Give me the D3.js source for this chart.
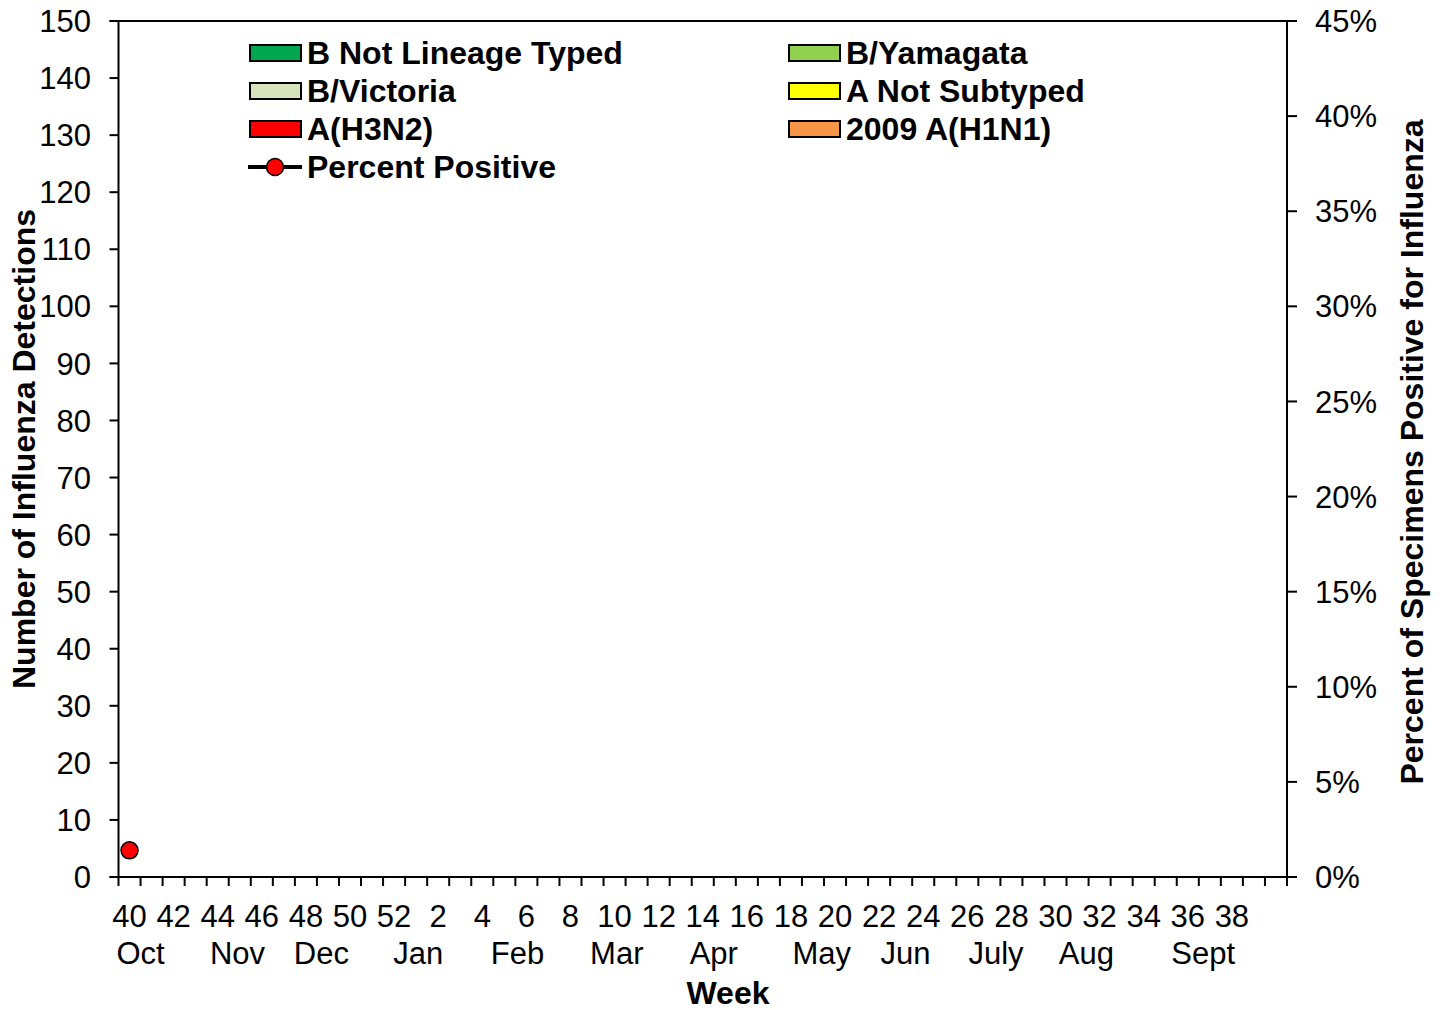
<!DOCTYPE html>
<html><head><meta charset="utf-8">
<script src="https://cdn.jsdelivr.net/npm/d3@7"></script>
<style>
html,body{margin:0;padding:0;background:#fff;}
text{font-family:"Liberation Sans",Arial,sans-serif;}
</style></head>
<body><svg id="c" width="1445" height="1010"></svg>
<script>
// ---- data ----
const weeks = [40,41,42,43,44,45,46,47,48,49,50,51,52,1,2,3,4,5,6,7,8,9,10,11,12,13,14,15,16,17,18,19,20,21,22,23,24,25,26,27,28,29,30,31,32,33,34,35,36,37,38,39,40];
const weekLabels = ["40","","42","","44","","46","","48","","50","","52","","2","","4","","6","","8","","10","","12","","14","","16","","18","","20","","22","","24","","26","","28","","30","","32","","34","","36","","38","",""];
const monthLabels = ["Oct","Nov","Dec","Jan","Feb","Mar","Apr","May","Jun","July","Aug","Sept"];
const monthPos = [0.5,4.9,8.7,13.1,17.6,22.1,26.5,31.4,35.2,39.3,43.4,48.7];
const seriesNames = ["2009 A(H1N1)","A(H3N2)","A Not Subtyped","B/Victoria","B/Yamagata","B Not Lineage Typed"];
const h1n1 = [0];
const h3n2 = [0];
const aNotSub = [0];
const bVic = [0];
const bYam = [0];
const bNotLin = [0];
const pctPositive = [1.4];
const leftTicks = [0,10,20,30,40,50,60,70,80,90,100,110,120,130,140,150];
const rightTicks = [0,5,10,15,20,25,30,35,40,45];

const colors = {"2009 A(H1N1)":"#F79646","A(H3N2)":"#FF0000","A Not Subtyped":"#FFFF00","B/Victoria":"#D8E4BC","B/Yamagata":"#92D050","B Not Lineage Typed":"#00A650"};

const svg = d3.select("#c");
const L=118.5, R=1287, T=21, B=877;
const idx = d3.range(weeks.length);
const x = d3.scaleBand().domain(idx).range([L,R]).paddingInner(0.25).paddingOuter(0.125);
const xb = d3.scaleLinear().domain([0,weeks.length]).range([L,R]);
const y = d3.scaleLinear().domain([0,150]).range([B,T]);
const y2 = d3.scaleLinear().domain([0,45]).range([B,T]);

// bars
const seriesArr = [h1n1,h3n2,aNotSub,bVic,bYam,bNotLin];
const table = idx.map(i=>{const o={i}; seriesNames.forEach((n,k)=>o[n]=seriesArr[k][i]||0); return o;});
const stack = d3.stack().keys(seriesNames)(table);
svg.append("g").selectAll("g").data(stack).join("g").attr("fill",d=>colors[d.key])
  .selectAll("rect").data(d=>d.filter(p=>p[1]-p[0]>0)).join("rect")
  .attr("x",d=>x(d.data.i)).attr("width",x.bandwidth())
  .attr("y",d=>y(d[1])).attr("height",d=>y(d[0])-y(d[1])).attr("stroke","#000").attr("stroke-width",1);

// axes
const ax = svg.append("g").attr("stroke","#000").attr("stroke-width",2).attr("fill","none");
ax.append("line").attr("x1",L).attr("x2",L).attr("y1",T).attr("y2",B);
ax.append("line").attr("x1",R).attr("x2",R).attr("y1",T).attr("y2",B);
ax.append("line").attr("x1",L-9).attr("x2",R+10).attr("y1",T).attr("y2",T);
ax.append("line").attr("x1",L-9).attr("x2",R+10).attr("y1",B).attr("y2",B);
leftTicks.forEach(v=>ax.append("line").attr("x1",L-9).attr("x2",L).attr("y1",y(v)).attr("y2",y(v)));
rightTicks.forEach(v=>ax.append("line").attr("x1",R).attr("x2",R+10).attr("y1",y2(v)).attr("y2",y2(v)));
d3.range(weeks.length+1).forEach(i=>ax.append("line").attr("x1",xb(i)).attr("x2",xb(i)).attr("y1",B).attr("y2",B+9));

const fs = 31;
svg.append("g").selectAll("text").data(leftTicks).join("text")
  .attr("x",91).attr("y",d=>y(d)).attr("dy","0.36em").attr("text-anchor","end")
  .attr("font-size",fs).text(d=>d);
svg.append("g").selectAll("text").data(rightTicks).join("text")
  .attr("x",1315).attr("y",d=>y2(d)).attr("dy","0.36em").attr("text-anchor","start")
  .attr("font-size",fs).text(d=>d+"%");
svg.append("g").selectAll("text").data(idx.filter(i=>weekLabels[i])).join("text")
  .attr("x",i=>x(i)+x.bandwidth()/2).attr("y",927).attr("text-anchor","middle")
  .attr("font-size",fs).text(i=>weekLabels[i]);
svg.append("g").selectAll("text").data(monthLabels).join("text")
  .attr("x",(d,k)=>xb(monthPos[k]+0.5)).attr("y",964).attr("text-anchor","middle")
  .attr("font-size",fs).text(d=>d);

// titles
svg.append("text").attr("x",728).attr("y",1004).attr("text-anchor","middle").attr("font-size",32).attr("font-weight","bold").text("Week");
svg.append("text").attr("transform","translate(35,449) rotate(-90)").attr("text-anchor","middle").attr("font-size",32).attr("font-weight","bold").text("Number of Influenza Detections");
svg.append("text").attr("transform","translate(1423,452) rotate(-90)").attr("text-anchor","middle").attr("font-size",32).attr("font-weight","bold").text("Percent of Specimens Positive for Influenza");

// percent positive line
const pts = idx.filter(i=>pctPositive[i]!=null && pctPositive[i]!==undefined);
const line = d3.line().x(i=>x(i)+x.bandwidth()/2).y(i=>y2(pctPositive[i]));
svg.append("path").attr("d",line(pts)).attr("fill","none").attr("stroke","#000").attr("stroke-width",4);
svg.append("g").selectAll("circle").data(pts).join("circle")
  .attr("cx",i=>x(i)+x.bandwidth()/2).attr("cy",i=>y2(pctPositive[i])).attr("r",8.5)
  .attr("fill","#FF0000").attr("stroke","#000").attr("stroke-width",1.5);

// legend
const legendItems = [
  {name:"B Not Lineage Typed",col:0,row:0},
  {name:"B/Yamagata",col:1,row:0},
  {name:"B/Victoria",col:0,row:1},
  {name:"A Not Subtyped",col:1,row:1},
  {name:"A(H3N2)",col:0,row:2},
  {name:"2009 A(H1N1)",col:1,row:2}
];
const colX=[250,789], rowY=[53,91,129,167];
const lg = svg.append("g");
legendItems.forEach(it=>{
  const cx=colX[it.col], cy=rowY[it.row];
  lg.append("rect").attr("x",cx).attr("y",cy-8).attr("width",51).attr("height",16)
    .attr("fill",colors[it.name]).attr("stroke","#000").attr("stroke-width",2);
  lg.append("text").attr("x",cx+57).attr("y",cy).attr("dy","0.34em").attr("font-size",32).attr("font-weight","bold").text(it.name);
});
lg.append("line").attr("x1",248).attr("x2",302).attr("y1",rowY[3]).attr("y2",rowY[3]).attr("stroke","#000").attr("stroke-width",4);
lg.append("circle").attr("cx",275).attr("cy",rowY[3]).attr("r",8.5).attr("fill","#FF0000").attr("stroke","#000").attr("stroke-width",1.5);
lg.append("text").attr("x",307).attr("y",rowY[3]).attr("dy","0.34em").attr("font-size",32).attr("font-weight","bold").text("Percent Positive");
</script></body></html>
